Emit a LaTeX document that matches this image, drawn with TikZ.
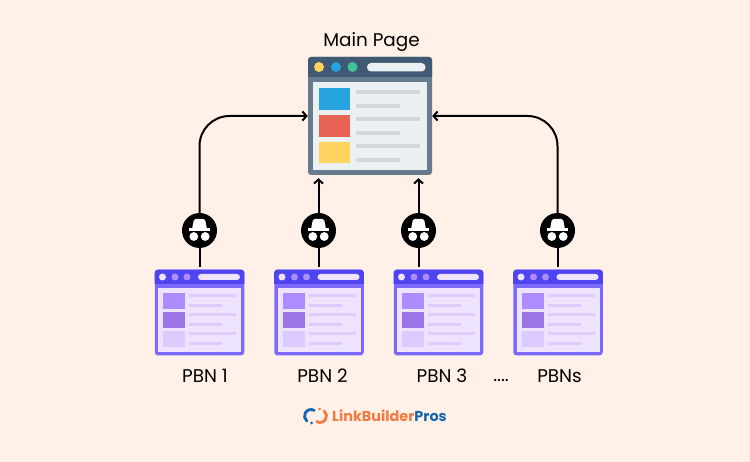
\documentclass[tikz,border=0pt]{standalone}
\usepackage{fontspec}
\setmainfont{Poppins}
\usetikzlibrary{arrows.meta, positioning, calc}

\definecolor{peach}{HTML}{FFF0E8}
\definecolor{slatedark}{HTML}{3F5A72}
\definecolor{slateframe}{HTML}{667B8E}
\definecolor{slatepanel}{HTML}{EBF0F3}
\definecolor{slateline}{HTML}{D5D6DB}
\definecolor{mainblue}{HTML}{27A4E0}
\definecolor{mainred}{HTML}{E76454}
\definecolor{mainyellow}{HTML}{FFD35F}
\definecolor{maingreen}{HTML}{3FC39A}
\definecolor{violetdark}{HTML}{4F45F0}
\definecolor{violetframe}{HTML}{7C68FA}
\definecolor{violetpanel}{HTML}{EDE3FF}
\definecolor{violetline}{HTML}{DCCBFF}
\definecolor{violetone}{HTML}{AD8CFF}
\definecolor{violettwo}{HTML}{9B74E6}
\definecolor{brandorange}{HTML}{F47B3F}
\definecolor{brandblue}{HTML}{1466B0}

\tikzset{
    mainframe/.style={fill=slateframe, rounded corners=3pt, minimum width=124pt, minimum height=118pt, inner sep=0pt},
    pbnframe/.style={fill=violetframe, rounded corners=3pt, minimum width=89.5pt, minimum height=85.6pt, inner sep=0pt},
    spy/.style={circle, fill=black, minimum size=35pt, inner sep=0pt},
    conn/.style={line width=2pt, black},
    tip/.style={-{Straight Barb[length=4pt, width=9pt, line width=2pt]}},
    caption/.style={font=\fontsize{18.4}{20}\selectfont, black, inner sep=0pt}
}

\begin{document}
\begin{tikzpicture}[x=1pt, y=-1pt]
    \useasboundingbox (0,0) rectangle (750,462);
    \fill[peach] (0,0) rectangle (750,462);

    \node[mainframe] (main) at (370,116) {};
    \fill[slatedark] (308,77) [rounded corners=3pt] -- (308,57) -- (432,57) [sharp corners] -- (432,77) -- cycle;
    \fill[slatepanel] (312.7,81.7) rectangle (427,170);
    \fill[mainyellow] (319,67) circle (5);
    \fill[mainblue] (336,67) circle (5);
    \fill[maingreen] (352.5,67) circle (5);
    \fill[slatepanel, rounded corners=4pt] (367,63) rectangle (425.5,71.5);
    \fill[mainblue] (319,88.5) rectangle (349.5,110.5);
    \fill[mainred] (319,115) rectangle (349.5,137);
    \fill[mainyellow] (319,142) rectangle (349.5,163.5);
    \foreach \y in {90,117,144} {
        \fill[slateline] (356,\y) rectangle (420,\y+4.5);
        \fill[slateline] (356,\y+14) rectangle (400,\y+18.5);
    }

    \foreach \i/\x in {1/199.5, 2/319, 3/438.5, 4/558} {
        \node[pbnframe] (pbn\i) at (\x,312.5) {};
        \begin{scope}[shift={(\x-199.5,0)}]
            \fill[violetdark] (154.7,284) [rounded corners=3pt] -- (154.7,269.7) -- (244.3,269.7) [sharp corners] -- (244.3,284) -- cycle;
            \fill[violetpanel] (158,287.7) rectangle (241,352);
            \fill[violetpanel] (162.5,277) circle (3.5);
            \fill[violetone] (175,277) circle (3.5);
            \fill[violetone] (187,277) circle (3.5);
            \fill[violetpanel, rounded corners=3pt] (198,274) rectangle (240,280);
            \fill[violetone] (163,292.7) rectangle (185,309);
            \fill[violettwo] (163,312) rectangle (185,328);
            \fill[violetline] (163,331) rectangle (185,347);
            \foreach \y in {294,313,332} {
                \fill[violetline] (189,\y) rectangle (236,\y+3.5);
                \fill[violetline] (189,\y+10) rectangle (222,\y+13.5);
            }
        \end{scope}
    }

    \foreach \i/\x in {1/199.5, 2/318.5, 3/418.5, 4/557.5} {
        \node[spy] (spy\i) at (\x,230.5) {};
        \fill[white] (\x-10.5,228.5) rectangle (\x+10.5,230.8);
        \fill[white, rounded corners=1.5pt] (\x-7.5,229) -- (\x-5.5,219) -- (\x+5.5,219) -- (\x+7.5,229) -- cycle;
        \fill[white] (\x-5.7,236.5) circle (4.4);
        \fill[white] (\x+5.7,236.5) circle (4.4);
        \draw[conn, shorten <=2.4pt] (spy\i |- pbn\i.north) -- (spy\i);
    }

    \draw[conn, tip, rounded corners=30pt] (spy1.north) |- (main.west);
    \draw[conn, tip, rounded corners=30pt] (spy4.north) |- (main.east);
    \draw[conn, tip, shorten >=3pt] (spy2.north) -- (spy2.north |- main.south);
    \draw[conn, tip, shorten >=3pt] (spy3.north) -- (spy3.north |- main.south);

    \node[caption] (maintitle) at (371.5,42) {Main Page};
    \node[caption] (label1) at (205,376) {PBN 1};
    \node[caption] (label2) at (322.5,376) {PBN 2};
    \node[caption] (label3) at (442,376) {PBN 3};
    \node[caption] (dots) at (501,380.5) {....};
    \node[caption] (label4) at (559.5,376) {PBNs};

    \draw[brandblue, line width=2.8pt, line cap=round] (314.25,410.4) arc[start angle=-60, end angle=-230, radius=6.5];
    \fill[brandblue] (311.5,423) circle (1.5);
    \draw[brandorange, line width=2.8pt, line cap=round] (316.75,421.6) arc[start angle=120, end angle=-50, radius=6.5];
    \fill[brandorange] (319.5,409) circle (1.5);
    \node[font=\fontsize{14.4}{16}\selectfont\bfseries, inner sep=0pt, anchor=west] (brand) at (332,416) {\textcolor{brandorange}{LinkBuilder}\textcolor{brandblue}{Pros}};
\end{tikzpicture}
\end{document}
